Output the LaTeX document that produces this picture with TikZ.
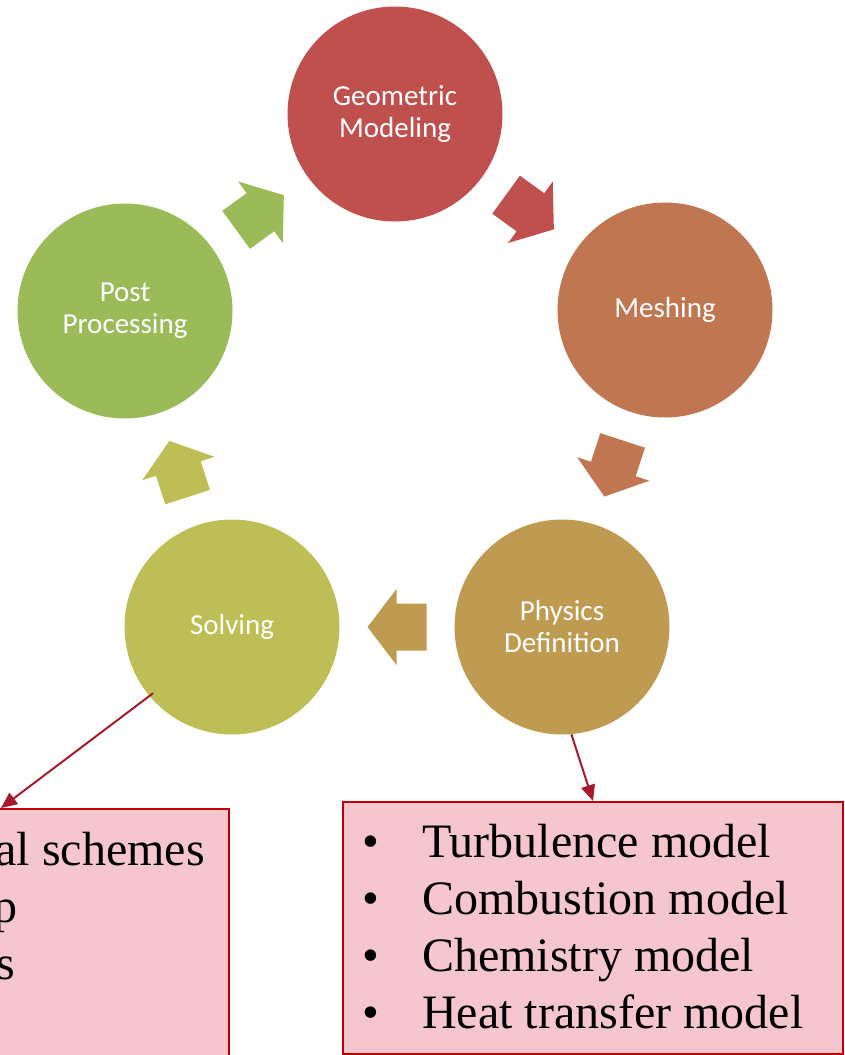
\documentclass[tikz,border=0pt]{standalone}
\usepackage{fontspec}
\setmainfont{Liberation Serif}
\newfontfamily\calibri{Carlito}
\usetikzlibrary{arrows.meta,calc}

\definecolor{geocol}{HTML}{C0504D}
\definecolor{meshcol}{HTML}{C07650}
\definecolor{physcol}{HTML}{BF9B52}
\definecolor{solvcol}{HTML}{BEBE57}
\definecolor{postcol}{HTML}{9BBB59}
\definecolor{boxfill}{HTML}{F6C6CF}
\definecolor{boxline}{HTML}{C00000}
\definecolor{linkcol}{HTML}{A6192E}

\tikzset{
  stage/.style={circle, minimum size=215pt, inner sep=0pt, fill=#1,
    text=white, align=center, font=\calibri\fontsize{29}{32}\selectfont},
  blockarrow/.pic={\fill (-29.5,23.5) -- (0.5,23.5) -- (0.5,38) -- (29.5,0)
    -- (0.5,-38) -- (0.5,-23.5) -- (-29.5,-23.5) -- cycle;},
  notebox/.style={draw=boxline, fill=boxfill, line width=2pt, inner sep=0pt},
  link/.style={draw=linkcol, line width=2pt, -{Triangle[length=16pt,width=14pt]}},
  listtext/.style={font=\fontsize{48}{57}\selectfont, inner sep=0pt, align=left}
}

\begin{document}
\begin{tikzpicture}[x=1pt, y=1pt]
  \useasboundingbox (0,0) rectangle (844,-1055);
  \clip (0,0) rectangle (844,-1055);

  % note boxes
  \node[notebox, anchor=north east, minimum width=530pt, minimum height=290pt]
    (lbox) at (230,-808) {};
  \node[notebox, anchor=north west, minimum width=500pt, minimum height=252pt]
    (rbox) at (342,-801) {};

  % contents of the left box
  \node[listtext, anchor=base east] (l1) at (205,-865) {al schemes};
  \node[listtext, anchor=base east] (l2) at (18,-922) {p};
  \node[listtext, anchor=base east] (l3) at (15,-979) {s};

  % contents of the right box (anchored on the baseline of the last line)
  \node[listtext, anchor=base west] (rlist) at (362,-1028)
    {\makebox[60pt][l]{\textbullet}Turbulence model\\
     \makebox[60pt][l]{\textbullet}Combustion model\\
     \makebox[60pt][l]{\textbullet}Chemistry model\\
     \makebox[60pt][l]{\textbullet}Heat transfer model};

  % the five stages of the cycle
  \node[stage=geocol]  (geo)  at (395,-114) {Geometric\\Modeling};
  \node[stage=meshcol] (mesh) at (665,-310) {Meshing};
  \node[stage=physcol] (phys) at (562,-627) {Physics\\Definition};
  \node[stage=solvcol] (solv) at (232,-627) {Solving};
  \node[stage=postcol] (post) at (125,-311) {Post\\Processing};

  % block arrows between the stages
  \pic[fill=geocol,  rotate=-36]  at ($(geo)!0.5!(mesh)$)  {blockarrow};
  \pic[fill=meshcol, rotate=-108] at ($(mesh)!0.5!(phys)$) {blockarrow};
  \pic[fill=physcol, rotate=180]  at ($(phys)!0.5!(solv)$) {blockarrow};
  \pic[fill=solvcol, rotate=108]  at ($(solv)!0.5!(post)$) {blockarrow};
  \pic[fill=postcol, rotate=36]   at ($(post)!0.5!(geo)$)  {blockarrow};

  % links from stages to their note boxes
  \coordinate (ltip) at (1,-808);
  \draw[link] ($(solv)+(220:103)$) -- (ltip);
  \draw[link] (phys.-85) -- (rbox.north);
\end{tikzpicture}
\end{document}
